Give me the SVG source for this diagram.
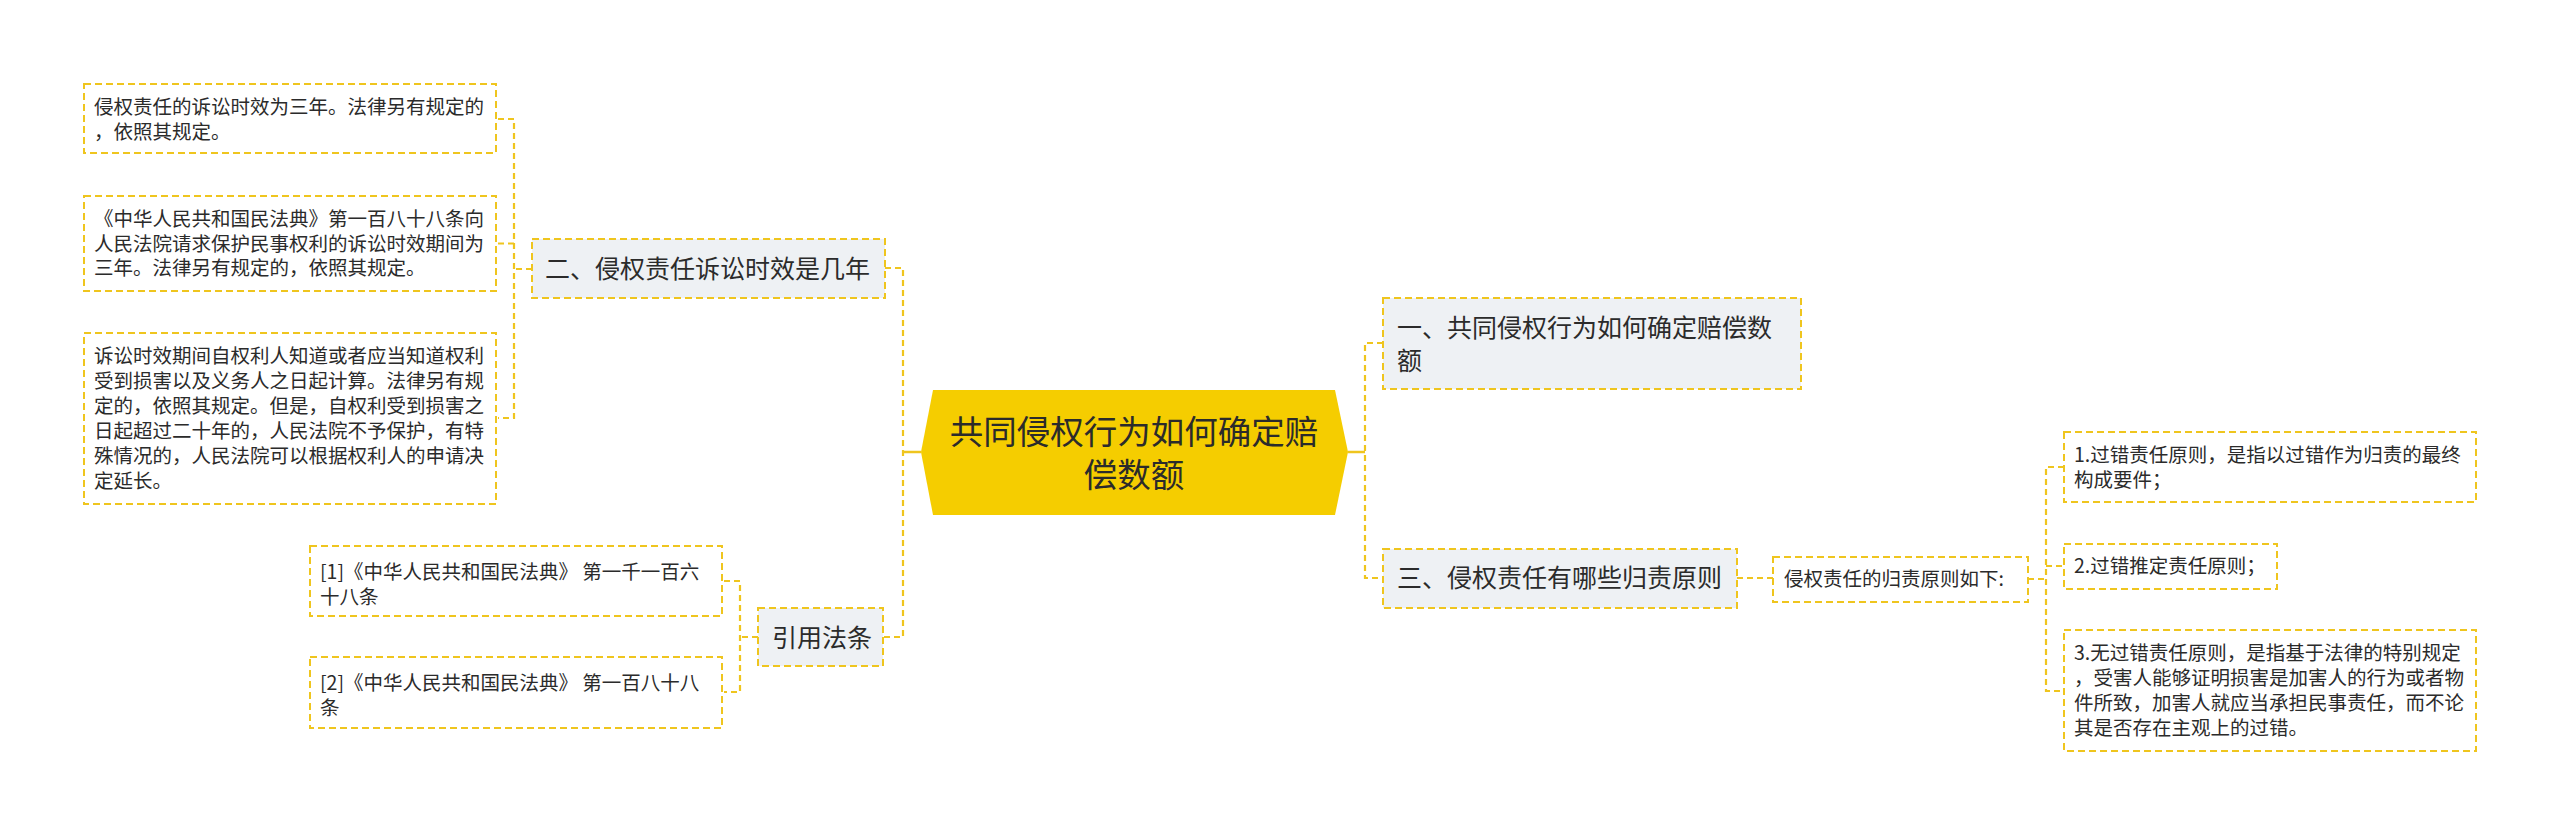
<svg xmlns="http://www.w3.org/2000/svg" width="2560" height="835" viewBox="0 0 2560 835">
<style>
text{font-family:"Noto Sans CJK SC","Noto Sans",sans-serif;fill:#2b2b2b}
.leaf{fill:#ffffff;stroke:#EFC51E;stroke-width:2;stroke-dasharray:7 4}
.sub{fill:#EEF1F4;stroke:#EFC51E;stroke-width:2;stroke-dasharray:7 4}
.t1{font-size:19.5px}
.t2{font-size:25px}
.t0{font-size:33.5px}
.con{fill:none;stroke:#EFC51E;stroke-width:2.2;stroke-dasharray:6 4}
.solid{fill:none;stroke:#EFC51E;stroke-width:2.5}
</style>
<rect width="2560" height="835" fill="#ffffff"/>
<g id="connectors">
<path class="solid" d="M921 452H903"/>
<path class="con" d="M885 268H903V637H883"/>
<path class="solid" d="M1348 452H1365"/>
<path class="con" d="M1383 343H1365V578H1383"/>
<path class="con" d="M532 269H514"/>
<path class="con" d="M498 119H514V418H498M514 243.5H498"/>
<path class="con" d="M758 637H740"/>
<path class="con" d="M724 581H740V692H724"/>
<path class="con" d="M1737 578H1773"/>
<path class="con" d="M2028 579H2046"/>
<path class="con" d="M2064 467H2046V691H2064M2046 566H2064"/>
</g>
<g id="root">
<polygon points="933,390 1335,390 1348,452 1335,515 933,515 921,452" fill="#F5CD00"/>
<text class="t0" x="1134" y="444" text-anchor="middle">共同侵权行为如何确定赔</text>
<text class="t0" x="1134" y="487" text-anchor="middle">偿数额</text>
</g>
<g id="n2">
<rect class="sub" x="532" y="239" width="353" height="59"/>
<text class="t2" x="545" y="278">二、侵权责任诉讼时效是几年</text>
</g>
<g id="n2a">
<rect class="leaf" x="84" y="84" width="412" height="69"/>
<text class="t1" x="94" y="114">侵权责任的诉讼时效为三年。法律另有规定的</text>
<text class="t1" x="94" y="139">，依照其规定。</text>
</g>
<g id="n2b">
<rect class="leaf" x="84" y="196" width="412" height="95"/>
<text class="t1" x="94" y="226">《中华人民共和国民法典》第一百八十八条向</text>
<text class="t1" x="94" y="250.5">人民法院请求保护民事权利的诉讼时效期间为</text>
<text class="t1" x="94" y="275">三年。法律另有规定的，依照其规定。</text>
</g>
<g id="n2c">
<rect class="leaf" x="84" y="333" width="412" height="171"/>
<text class="t1" x="94" y="363">诉讼时效期间自权利人知道或者应当知道权利</text>
<text class="t1" x="94" y="388">受到损害以及义务人之日起计算。法律另有规</text>
<text class="t1" x="94" y="413">定的，依照其规定。但是，自权利受到损害之</text>
<text class="t1" x="94" y="438">日起超过二十年的，人民法院不予保护，有特</text>
<text class="t1" x="94" y="463">殊情况的，人民法院可以根据权利人的申请决</text>
<text class="t1" x="94" y="488">定延长。</text>
</g>
<g id="n4">
<rect class="sub" x="758" y="608" width="125" height="58"/>
<text class="t2" x="772" y="647">引用法条</text>
</g>
<g id="n4a">
<rect class="leaf" x="310" y="546" width="412" height="70"/>
<text class="t1" x="320" y="579">[1]《中华人民共和国民法典》 第一千一百六</text>
<text class="t1" x="320" y="604">十八条</text>
</g>
<g id="n4b">
<rect class="leaf" x="310" y="657" width="412" height="71"/>
<text class="t1" x="320" y="690">[2]《中华人民共和国民法典》 第一百八十八</text>
<text class="t1" x="320" y="715">条</text>
</g>
<g id="n1">
<rect class="sub" x="1383" y="298" width="418" height="91"/>
<text class="t2" x="1397" y="337">一、共同侵权行为如何确定赔偿数</text>
<text class="t2" x="1397" y="370">额</text>
</g>
<g id="n3">
<rect class="sub" x="1383" y="549" width="354" height="59"/>
<text class="t2" x="1397" y="587">三、侵权责任有哪些归责原则</text>
</g>
<g id="n3a">
<rect class="leaf" x="1773" y="557" width="255" height="45"/>
<text class="t1" x="1784" y="586">侵权责任的归责原则如下:</text>
</g>
<g id="n3a1">
<rect class="leaf" x="2064" y="432" width="412" height="70"/>
<text class="t1" x="2074" y="462">1.过错责任原则，是指以过错作为归责的最终</text>
<text class="t1" x="2074" y="487">构成要件；</text>
</g>
<g id="n3a2">
<rect class="leaf" x="2064" y="544" width="213" height="45"/>
<text class="t1" x="2074" y="573">2.过错推定责任原则；</text>
</g>
<g id="n3a3">
<rect class="leaf" x="2064" y="630" width="412" height="121"/>
<text class="t1" x="2074" y="660">3.无过错责任原则，是指基于法律的特别规定</text>
<text class="t1" x="2074" y="685">，受害人能够证明损害是加害人的行为或者物</text>
<text class="t1" x="2074" y="710">件所致，加害人就应当承担民事责任，而不论</text>
<text class="t1" x="2074" y="735">其是否存在主观上的过错。</text>
</g>
</svg>
